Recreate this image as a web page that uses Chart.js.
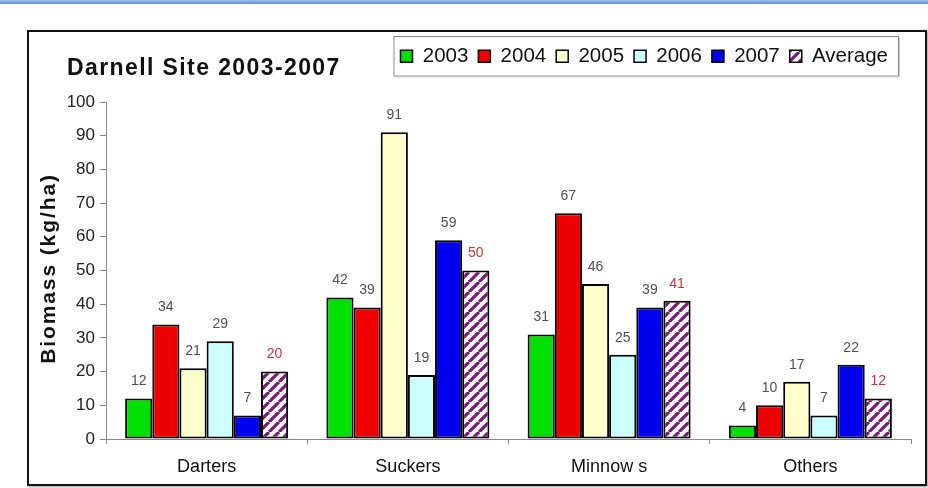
<!DOCTYPE html>
<html>
<head>
<meta charset="utf-8">
<script src="https://cdn.jsdelivr.net/npm/chart.js@4/dist/chart.umd.min.js"></script>
<style>
  body { margin: 0; background: #fff; width: 928px; height: 488px; overflow: hidden; position: relative; }
  #band { position: absolute; left: 0; top: 0; width: 928px; height: 4px; background: linear-gradient(#9cc0ea, #5b8fd0); }
  #frame { position: absolute; left: 27px; top: 30px; width: 896px; height: 452px; border: 2px solid #111; box-shadow: 1px 1px 2px #999; }
</style>
</head>
<body>
<div id="band"></div>
<div id="frame"><canvas id="chart-biomass" width="896" height="452"></canvas></div>
<script>
const categories = ['Darters', 'Suckers', 'Minnow s', 'Others'];
const y2003 = [12, 42, 31, 4];
const y2004 = [34, 39, 67, 10];
const y2005 = [21, 91, 46, 17];
const y2006 = [29, 19, 25, 7];
const y2007 = [7, 59, 39, 22];
const average = [20, 50, 41, 12];
const yTicks = [0, 10, 20, 30, 40, 50, 60, 70, 80, 90, 100];

const FONT = "'Liberation Sans', Arial, sans-serif";

function hatch() {
    const c = document.createElement('canvas');
    c.width = 10;
    c.height = 10;
    const g = c.getContext('2d');
    g.fillStyle = '#fff';
    g.fillRect(0, 0, 10, 10);
    g.strokeStyle = '#7a1a7a';
    g.lineWidth = 3.2;
    g.beginPath();
    for (let k = -10; k <= 20; k += 10) {
        g.moveTo(k, 10);
        g.lineTo(k + 10, 0);
    }
    g.stroke();
    return g.createPattern(c, 'repeat');
}

// value labels above each bar
const barLabels = {
    id: 'barLabels',
    afterDatasetsDraw(chart) {
        const ctx = chart.ctx;
        ctx.save();
        ctx.font = '14px ' + FONT;
        ctx.textAlign = 'center';
        ctx.textBaseline = 'middle';
        chart.data.datasets.forEach((ds, i) => {
            ctx.fillStyle = ds.label === 'Average' ? '#cc3344' : '#505050';
            chart.getDatasetMeta(i).data.forEach((bar, j) => {
                ctx.fillText(ds.data[j], bar.x, bar.y - 17);
            });
        });
        ctx.restore();
    }
};

// legend sits level with the title, a bit in from the right edge
const legendPlace = {
    id: 'legendPlace',
    afterLayout(chart) {
        const lg = chart.legend;
        const dy = lg.top - 4;
        lg.top -= dy;
        lg.bottom -= dy;
        lg.left -= 13;
        lg.right -= 13;
    }
};

// chart title, y title and the box round the legend
const frameBits = {
    id: 'frameBits',
    afterDraw(chart) {
        const ctx = chart.ctx;
        const boxes = chart.legend.legendHitBoxes;
        ctx.save();
        if (boxes.length) {
            const left = boxes[0].left - 7;
            const last = boxes[boxes.length - 1];
            const right = last.left + last.width + 10;
            const top = boxes[0].top - 10;
            const bottom = boxes[0].top + boxes[0].height + 9;
            ctx.strokeStyle = '#888';
            ctx.lineWidth = 1;
            ctx.strokeRect(left + 0.5, top + 0.5, right - left, bottom - top);
            ctx.strokeStyle = '#ccc';
            ctx.beginPath();
            ctx.moveTo(left + 2, bottom + 1.5);
            ctx.lineTo(right + 1.5, bottom + 1.5);
            ctx.lineTo(right + 1.5, top + 2);
            ctx.stroke();
        }
        ctx.fillStyle = '#111';
        ctx.textBaseline = 'middle';
        ctx.font = 'bold 23px ' + FONT;
        ctx.letterSpacing = '1.4px';
        ctx.fillText('Darnell Site 2003-2007', 38, 37);

        const area = chart.chartArea;
        ctx.font = 'bold 21px ' + FONT;
        ctx.letterSpacing = '1.9px';
        ctx.textAlign = 'center';
        ctx.translate(20, (area.top + area.bottom) / 2 - 2);
        ctx.rotate(-Math.PI / 2);
        ctx.fillText('Biomass (kg/ha)', 0, 0);
        ctx.restore();
    }
};

const avgPattern = hatch();

function bars(label, data, color) {
    return {
        label,
        data,
        backgroundColor: color,
        borderColor: '#000',
        borderWidth: 2,
        borderSkipped: false,
    };
}

const config = {
    type: 'bar',
    data: {
        labels: categories,
        datasets: [
            bars('2003', y2003, '#00e000'),
            bars('2004', y2004, '#ee0000'),
            bars('2005', y2005, '#ffffcc'),
            bars('2006', y2006, '#ccffff'),
            bars('2007', y2007, '#0000ee'),
            bars('Average', average, avgPattern),
        ]
    },
    options: {
        responsive: false,
        animation: false,
        categoryPercentage: 0.81,
        barPercentage: 1,
        layout: {
            padding: { left: 0, right: 14, top: 29.5, bottom: 0 }
        },
        plugins: {
            legend: {
                position: 'top',
                align: 'end',
                labels: {
                    font: { family: FONT, size: 20.5 },
                    color: '#111',
                    boxWidth: 12,
                    boxHeight: 12,
                    padding: 10,
                    generateLabels(chart) {
                        const items = Chart.defaults.plugins.legend.labels.generateLabels(chart);
                        items.forEach(it => { it.lineWidth = 1.5; });
                        return items;
                    }
                }
            },
            tooltip: { enabled: false },
        },
        scales: {
            x: {
                grid: {
                    display: true,
                    drawOnChartArea: false,
                    drawTicks: true,
                    tickLength: 5,
                    offset: true,
                    color: '#888',
                },
                border: { color: '#888', width: 1 },
                ticks: {
                    font: { family: FONT, size: 18 },
                    color: '#111',
                    padding: 12,
                },
                afterFit(scale) { scale.height = 45; }
            },
            y: {
                min: 0,
                max: 100,
                afterBuildTicks(scale) { scale.ticks = yTicks.map(v => ({ value: v })); },
                grid: {
                    display: true,
                    drawOnChartArea: false,
                    drawTicks: true,
                    tickLength: 6,
                    color: '#888',
                },
                border: { color: '#888', width: 1 },
                ticks: {
                    font: { family: FONT, size: 17 },
                    color: '#222',
                    padding: 5,
                },
                afterFit(scale) { scale.width = 77; }
            }
        }
    },
    plugins: [legendPlace, barLabels, frameBits]
};

new Chart(document.getElementById('chart-biomass'), config);
</script>
</body>
</html>
